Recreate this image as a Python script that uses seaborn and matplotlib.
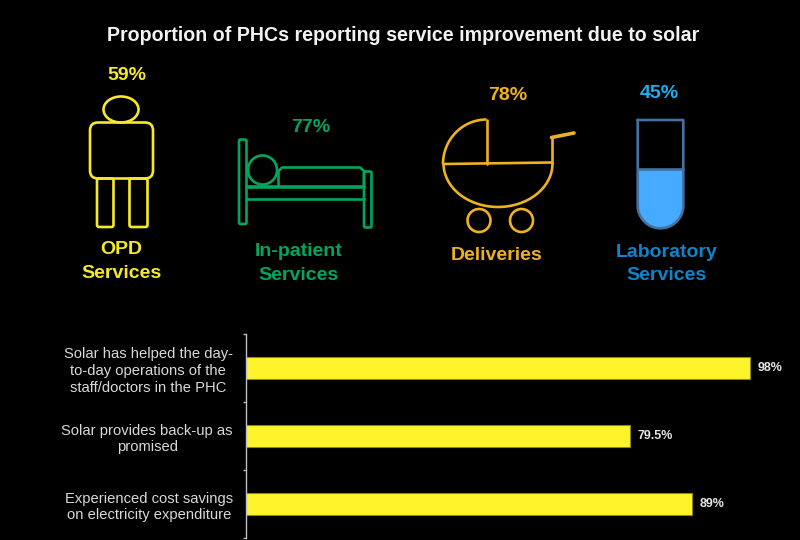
from pathlib import Path
import matplotlib.pyplot as plt
from matplotlib.patches import Arc, Circle, Ellipse, FancyBboxPatch, Polygon
import numpy as np
import seaborn as sns
import pandas as pd


sns.set(style='whitegrid')
plt.rcParams['font.family'] = 'Liberation Sans'


def rounded_box(ax, x0: float, y0: float, x1: float, y1: float, radius: float, color: str, lw: float = 1.9) -> None:
    ax.add_patch(FancyBboxPatch((x0 + radius, y0 + radius), x1 - x0 - 2 * radius, y1 - y0 - 2 * radius,
                                boxstyle=f'round,pad={radius},rounding_size={radius}',
                                fill=False, edgecolor=color, linewidth=lw))


def draw_person(ax, color: str) -> None:
    ax.add_patch(Ellipse((121, 109.5), 35, 26, fill=False, edgecolor=color, linewidth=1.9))
    rounded_box(ax, 90, 122.5, 153, 178.5, 8, color)
    rounded_box(ax, 97, 178.5, 113.5, 227, 2, color)
    rounded_box(ax, 129.5, 178.5, 147.5, 227, 2, color)


def draw_bed(ax, color: str) -> None:
    rounded_box(ax, 239, 139.5, 246.5, 224, 1.5, color)
    rounded_box(ax, 364, 171.5, 371.5, 227.5, 1.5, color)
    ax.add_patch(Circle((262.5, 170), 14.5, fill=False, edgecolor=color, linewidth=1.9))
    ax.plot([278.5, 278.5, 282, 360, 364, 364], [186.5, 171, 167.5, 167.5, 171, 186.5], color=color, lw=1.9)
    ax.plot([246.5, 364], [187, 187], color=color, lw=2.6)
    ax.plot([246.5, 364], [198.5, 198.5], color=color, lw=1.9)


def draw_stroller(ax, color: str) -> None:
    ax.add_patch(Arc((486.5, 164), 87, 89, theta1=180, theta2=270, edgecolor=color, linewidth=1.9))
    ax.add_patch(Arc((498, 163.5), 109, 87, theta1=0, theta2=180, edgecolor=color, linewidth=1.9))
    ax.plot([486.5, 486.5], [119.5, 164], color=color, lw=1.9)
    ax.plot([443.5, 551.5], [164, 162.5], color=color, lw=1.9)
    ax.plot([551.5, 551.5], [162.5, 137.5], color=color, lw=1.9)
    ax.plot([551.5, 574], [137.5, 133], color=color, lw=2.6)
    ax.add_patch(Circle((479, 220.5), 11.5, fill=False, edgecolor=color, linewidth=1.9))
    ax.add_patch(Circle((521.5, 220.5), 11.5, fill=False, edgecolor=color, linewidth=1.9))


def draw_tube(ax, edge: str, fill: str) -> None:
    theta = np.linspace(0, np.pi, 40)
    xs = 660.5 + 22.8 * np.cos(theta)
    ys = 205.5 + 22.8 * np.sin(theta)
    ax.add_patch(Polygon([(683.3, 169)] + list(zip(xs, ys)) + [(637.7, 169)], closed=True, facecolor=fill, edgecolor='none'))
    ax.plot(np.r_[637.7, 637.7, xs[::-1], 683.3, 683.3, 637.7], np.r_[120, 205.5, ys[::-1], 205.5, 120, 120], color=edge, lw=1.9)
    ax.plot([637.7, 683.3], [169, 169], color=edge, lw=1.9)


def plot_service_icons(fig) -> None:
    ax = fig.add_axes([0, 0, 1, 1])
    ax.set_xlim(0, 800)
    ax.set_ylim(540, 0)
    ax.axis('off')

    ax.text(403, 35.5, 'Proportion of PHCs reporting service improvement due to solar', color='#f2f2f2',
            fontsize=14.1, fontweight='bold', ha='center', va='center')

    draw_person(ax, '#f4ea2a')
    draw_bed(ax, '#00a65d')
    draw_stroller(ax, '#efb21f')
    draw_tube(ax, '#45709f', '#46abff')

    labels = [
        (127, 76, '59%', '#f4ea2a'), (121, 250, 'OPD', '#f4ea2a'), (121, 274, 'Services', '#f4ea2a'),
        (310.5, 128, '77%', '#00a65d'), (298.5, 252, 'In-patient', '#00a65d'), (298.5, 276, 'Services', '#00a65d'),
        (507.5, 96, '78%', '#efb21f'), (496.5, 256, 'Deliveries', '#efb21f'),
        (659.5, 93, '45%', '#19b2f0'), (666.5, 252.5, 'Laboratory', '#0f84c8'), (666.5, 276, 'Services', '#0f84c8'),
    ]
    for x, y, text, color in labels:
        ax.text(x, y, text, color=color, fontsize=14, fontweight='bold', ha='center', va='center')


def plot_solar_benefits(fig) -> None:
    benefits = pd.DataFrame({
        'statement': [
            'Solar has helped the day-\nto-day operations of the\nstaff/doctors in the PHC',
            'Solar provides back-up as\npromised',
            'Experienced cost savings\non electricity expenditure',
        ],
        'share': [98, 79.5, 89],
    })

    ax = fig.add_axes([246 / 800, 2 / 540, 536 / 800, 204 / 540])
    ax.patch.set_alpha(0)
    sns.barplot(data=benefits, x='share', y='statement', color='#fff42b', saturation=1, width=0.31,
                edgecolor='#8d8716', linewidth=0.8, ax=ax)
    ax.bar_label(ax.containers[0], fmt='%g%%', padding=5.5, color='#e6e6e6', fontsize=9, fontweight='bold')
    ax.set_xlim(20, 103)  # axis does not start at zero in the original
    ax.grid(False)
    ax.set_xlabel('')
    ax.set_ylabel('')
    ax.xaxis.set_visible(False)
    for side in ['top', 'right', 'bottom']:
        ax.spines[side].set_visible(False)
    ax.spines['left'].set_color('#bfbfbf')
    ax.spines['left'].set_linewidth(1)
    ax.set_yticks([-0.5, 0.5, 1.5, 2.5], minor=True)
    ax.tick_params(axis='y', which='minor', left=True, length=2.5, width=1, color='#bfbfbf')
    ax.tick_params(axis='y', which='major', left=False, length=0, pad=9.5, labelsize=10.65, labelcolor='#d9d9d9')
    for label in ax.get_yticklabels():
        label.set_multialignment('center')
        label.set_linespacing(1.27)


def plot_report(output_path: str) -> str:
    Path(output_path).parent.mkdir(parents=True, exist_ok=True)
    fig = plt.figure(figsize=(8, 5.4), facecolor='black')
    plot_service_icons(fig)
    plot_solar_benefits(fig)
    fig.savefig(output_path, dpi=100, facecolor='black')
    plt.close(fig)
    return output_path


plot_report('out.png')
